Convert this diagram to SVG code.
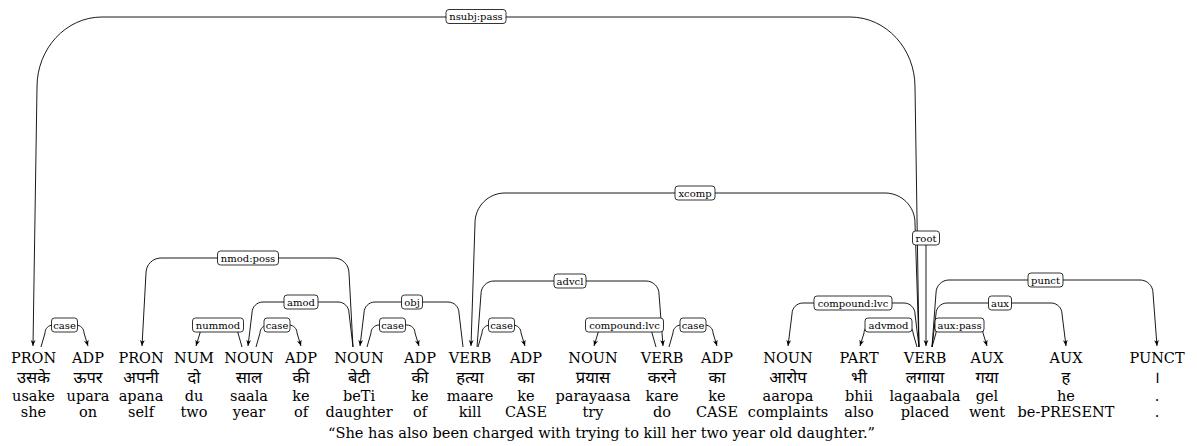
<svg xmlns="http://www.w3.org/2000/svg" width="1197" height="446" viewBox="0 0 1197 446">
<style>
.w{font-family:'DejaVu Serif',serif;font-size:14.5px;text-anchor:middle;fill:#000}
.hi{font-family:'Noto Sans Devanagari','Lohit Devanagari','Noto Sans',sans-serif;font-size:16.5px;text-anchor:middle;fill:#000}
.arc{fill:none;stroke:#000;stroke-width:0.9}
.box{fill:#fff;stroke:#000;stroke-width:0.8}
.lbl{font-family:'DejaVu Serif',serif;font-size:10px;text-anchor:middle;fill:#000}
</style>
<defs>
<marker id="ah" viewBox="0 0 10 10" refX="10" refY="5" markerWidth="6" markerHeight="6" markerUnits="userSpaceOnUse" orient="auto">
<path d="M0,1 L10,5 L0,9 L3,5 z" fill="#000"/>
</marker>
</defs>
<rect width="1197" height="446" fill="#fff"/>
<g id="connectors">
<path class="arc" marker-end="url(#ah)" d="M919,347 L915,87 C915,48.4 885.9,17 850,17 L102,17 C66.1,17 37,48.4 37,87 L33,346"/>
<path class="arc" marker-end="url(#ah)" d="M919,347 L915,223 C915,206.4 901.6,193 885,193 L505,193 C488.4,193 475,206.4 475,223 L471,346"/>
<path class="arc" marker-end="url(#ah)" d="M926,238 L926,346"/>
<path class="arc" marker-end="url(#ah)" d="M353,347 L349,273 C349,264.7 342.3,258 334,258 L161,258 C152.7,258 146,264.7 146,273 L142,346"/>
<path class="arc" marker-end="url(#ah)" d="M477,347 L481,294 C481,286.8 486.8,281 494,281 L646,281 C653.2,281 659,286.8 659,294 L663,346"/>
<path class="arc" marker-end="url(#ah)" d="M932,347 L936,293 C936,285.8 941.8,280 949,280 L1140,280 C1147.2,280 1153,285.8 1153,293 L1157,346"/>
<path class="arc" marker-end="url(#ah)" d="M353,347 L349,313 C349,306.9 344.1,302 338,302 L263,302 C256.9,302 252,306.9 252,313 L248,346"/>
<path class="arc" marker-end="url(#ah)" d="M463,347 L459,313 C459,306.9 454.1,302 448,302 L375,302 C368.9,302 364,306.9 364,313 L360,346"/>
<path class="arc" marker-end="url(#ah)" d="M919,347 L915,314 C915,307.9 910.1,303 904,303 L803,303 C796.9,303 792,307.9 792,314 L788,346"/>
<path class="arc" marker-end="url(#ah)" d="M932,347 L936,314 C936,307.9 940.9,303 947,303 L1051,303 C1057.1,303 1062,307.9 1062,314 L1066,346"/>
<path class="arc" marker-end="url(#ah)" d="M41,347 L45,333 C45,328.6 48.6,325 53,325 L76,325 C80.4,325 84,328.6 84,333 L88,346"/>
<path class="arc" marker-end="url(#ah)" d="M242,347 L238,333 C238,328.6 234.4,325 230,325 L208,325 C203.6,325 200,328.6 200,333 L196,346"/>
<path class="arc" marker-end="url(#ah)" d="M256,347 L260,333 C260,328.6 263.6,325 268,325 L289,325 C293.4,325 297,328.6 297,333 L301,346"/>
<path class="arc" marker-end="url(#ah)" d="M367,347 L371,333 C371,328.6 374.6,325 379,325 L407,325 C411.4,325 415,328.6 415,333 L419,346"/>
<path class="arc" marker-end="url(#ah)" d="M478,347 L482,333 C482,328.6 485.6,325 490,325 L513,325 C517.4,325 521,328.6 521,333 L525,346"/>
<path class="arc" marker-end="url(#ah)" d="M656,347 L652,333 C652,328.6 648.4,325 644,325 L606,325 C601.6,325 598,328.6 598,333 L594,346"/>
<path class="arc" marker-end="url(#ah)" d="M669,347 L673,333 C673,328.6 676.6,325 681,325 L705,325 C709.4,325 713,328.6 713,333 L717,346"/>
<path class="arc" marker-end="url(#ah)" d="M917,347 L913,333 C913,328.6 909.4,325 905,325 L872,325 C867.6,325 864,328.6 864,333 L860,346"/>
<path class="arc" marker-end="url(#ah)" d="M932,347 L936,333 C936,328.6 939.6,325 944,325 L975,325 C979.4,325 983,328.6 983,333 L987,346"/>
<rect class="box" x="446" y="9.5" width="60" height="14" rx="3"/><text class="lbl" x="476" y="20">nsubj:pass</text>
<rect class="box" x="675" y="186" width="40" height="14" rx="3"/><text class="lbl" x="695" y="196.5">xcomp</text>
<rect class="box" x="912.5" y="231" width="27" height="14" rx="3"/><text class="lbl" x="926" y="241.5">root</text>
<rect class="box" x="217.5" y="251" width="61" height="14" rx="3"/><text class="lbl" x="248" y="261.5">nmod:poss</text>
<rect class="box" x="554" y="274" width="32" height="14" rx="3"/><text class="lbl" x="570" y="284.5">advcl</text>
<rect class="box" x="1028" y="273" width="35" height="14" rx="3"/><text class="lbl" x="1045.5" y="283.5">punct</text>
<rect class="box" x="284" y="295" width="34" height="14" rx="3"/><text class="lbl" x="301" y="305.5">amod</text>
<rect class="box" x="401.5" y="295" width="21" height="14" rx="3"/><text class="lbl" x="412" y="305.5">obj</text>
<rect class="box" x="814" y="296" width="78" height="14" rx="3"/><text class="lbl" x="853" y="306.5">compound:lvc</text>
<rect class="box" x="988.5" y="296" width="23" height="14" rx="3"/><text class="lbl" x="1000" y="306.5">aux</text>
<rect class="box" x="51.5" y="318" width="26" height="14" rx="3"/><text class="lbl" x="64.5" y="328.5">case</text>
<rect class="box" x="192.5" y="318" width="51" height="14" rx="3"/><text class="lbl" x="218" y="328.5">nummod</text>
<rect class="box" x="264" y="318" width="26" height="14" rx="3"/><text class="lbl" x="277" y="328.5">case</text>
<rect class="box" x="379.5" y="318" width="26" height="14" rx="3"/><text class="lbl" x="392.5" y="328.5">case</text>
<rect class="box" x="488.5" y="318" width="26" height="14" rx="3"/><text class="lbl" x="501.5" y="328.5">case</text>
<rect class="box" x="585.5" y="318" width="78" height="14" rx="3"/><text class="lbl" x="624.5" y="328.5">compound:lvc</text>
<rect class="box" x="680" y="318" width="26" height="14" rx="3"/><text class="lbl" x="693" y="328.5">case</text>
<rect class="box" x="865" y="318" width="47" height="14" rx="3"/><text class="lbl" x="888.5" y="328.5">advmod</text>
<rect class="box" x="935" y="318" width="49" height="14" rx="3"/><text class="lbl" x="959.5" y="328.5">aux:pass</text>
</g>
<g id="w1"><text class="w" x="33.5" y="363">PRON</text><text class="hi" x="33.5" y="383">उसके</text><text class="w" x="33.5" y="401">usake</text><text class="w" x="33.5" y="417">she</text></g>
<g id="w2"><text class="w" x="88" y="363">ADP</text><text class="hi" x="88" y="383">ऊपर</text><text class="w" x="88" y="401">upara</text><text class="w" x="88" y="417">on</text></g>
<g id="w3"><text class="w" x="141" y="363">PRON</text><text class="hi" x="141" y="383">अपनी</text><text class="w" x="141" y="401">apana</text><text class="w" x="141" y="417">self</text></g>
<g id="w4"><text class="w" x="194" y="363">NUM</text><text class="hi" x="194" y="383">दो</text><text class="w" x="194" y="401">du</text><text class="w" x="194" y="417">two</text></g>
<g id="w5"><text class="w" x="249" y="363">NOUN</text><text class="hi" x="249" y="383">साल</text><text class="w" x="249" y="401">saala</text><text class="w" x="249" y="417">year</text></g>
<g id="w6"><text class="w" x="301" y="363">ADP</text><text class="hi" x="301" y="383">की</text><text class="w" x="301" y="401">ke</text><text class="w" x="301" y="417">of</text></g>
<g id="w7"><text class="w" x="359" y="363">NOUN</text><text class="hi" x="359" y="383">बेटी</text><text class="w" x="359" y="401">beTi</text><text class="w" x="359" y="417">daughter</text></g>
<g id="w8"><text class="w" x="420" y="363">ADP</text><text class="hi" x="420" y="383">की</text><text class="w" x="420" y="401">ke</text><text class="w" x="420" y="417">of</text></g>
<g id="w9"><text class="w" x="470" y="363">VERB</text><text class="hi" x="470" y="383">हत्या</text><text class="w" x="470" y="401">maare</text><text class="w" x="470" y="417">kill</text></g>
<g id="w10"><text class="w" x="526" y="363">ADP</text><text class="hi" x="526" y="383">का</text><text class="w" x="526" y="401">ke</text><text class="w" x="526" y="417">CASE</text></g>
<g id="w11"><text class="w" x="593" y="363">NOUN</text><text class="hi" x="593" y="383">प्रयास</text><text class="w" x="593" y="401">parayaasa</text><text class="w" x="593" y="417">try</text></g>
<g id="w12"><text class="w" x="662" y="363">VERB</text><text class="hi" x="662" y="383">करने</text><text class="w" x="662" y="401">kare</text><text class="w" x="662" y="417">do</text></g>
<g id="w13"><text class="w" x="717" y="363">ADP</text><text class="hi" x="717" y="383">का</text><text class="w" x="717" y="401">ke</text><text class="w" x="717" y="417">CASE</text></g>
<g id="w14"><text class="w" x="788" y="363">NOUN</text><text class="hi" x="788" y="383">आरोप</text><text class="w" x="788" y="401">aaropa</text><text class="w" x="788" y="417">complaints</text></g>
<g id="w15"><text class="w" x="859" y="363">PART</text><text class="hi" x="859" y="383">भी</text><text class="w" x="859" y="401">bhii</text><text class="w" x="859" y="417">also</text></g>
<g id="w16"><text class="w" x="925" y="363">VERB</text><text class="hi" x="925" y="383">लगाया</text><text class="w" x="925" y="401">lagaabala</text><text class="w" x="925" y="417">placed</text></g>
<g id="w17"><text class="w" x="987" y="363">AUX</text><text class="hi" x="987" y="383">गया</text><text class="w" x="987" y="401">gel</text><text class="w" x="987" y="417">went</text></g>
<g id="w18"><text class="w" x="1066" y="363">AUX</text><text class="hi" x="1066" y="383">ह</text><text class="w" x="1066" y="401">he</text><text class="w" x="1066" y="417">be-PRESENT</text></g>
<g id="w19"><text class="w" x="1157" y="363">PUNCT</text><text class="hi" x="1157" y="383">।</text><text class="w" x="1157" y="401">.</text><text class="w" x="1157" y="417">.</text></g>
<g id="translation"><text class="w" x="601.5" y="438" textLength="547" lengthAdjust="spacingAndGlyphs">“She has also been charged with trying to kill her two year old daughter.”</text></g>
</svg>
